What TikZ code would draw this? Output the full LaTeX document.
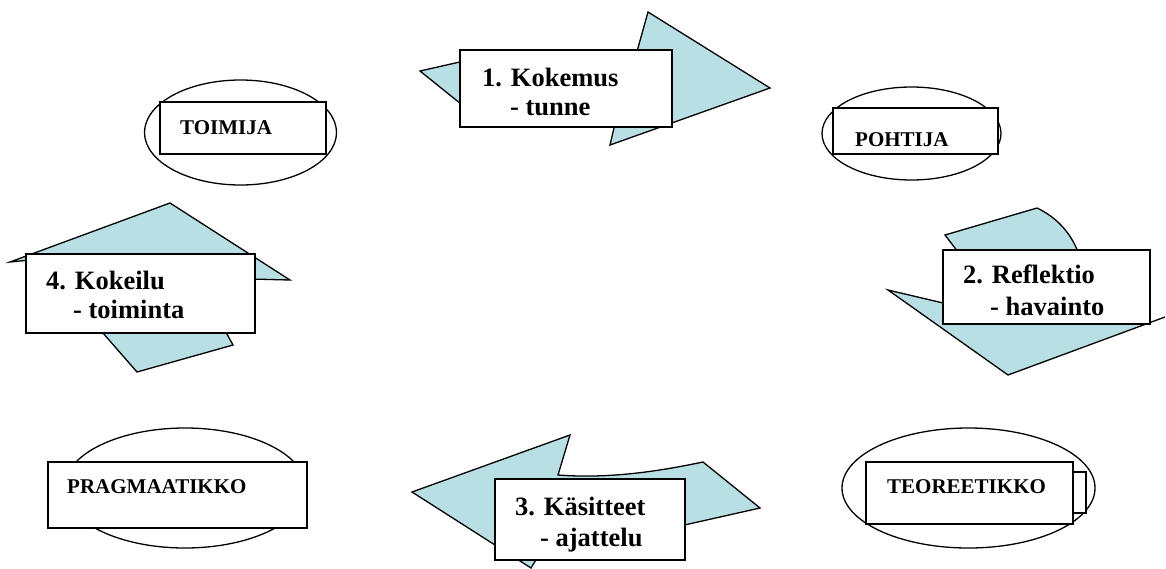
\documentclass[tikz,border=0pt]{standalone}
\usepackage{fontspec}
\setmainfont{Liberation Serif}
\usetikzlibrary{shapes.geometric}
\definecolor{arrowfill}{RGB}{184,223,227}
\tikzset{
  blockarrow/.style={draw=black, line width=1.3pt, fill=arrowfill, line join=miter},
  labelbox/.style={rectangle, draw=black, line width=1.8pt, fill=white, inner sep=0pt},
  oval/.style={ellipse, draw=black, line width=1.3pt, fill=white, inner sep=0pt},
  bigtext/.style={font=\bfseries\fontsize{26.5}{30}\selectfont, anchor=base west, inner sep=0pt},
  smalltext/.style={font=\bfseries\fontsize{21}{24}\selectfont, anchor=base west, inner sep=0pt},
}
\begin{document}
\begin{tikzpicture}[x=1pt, y=-1pt]
\useasboundingbox (0,0) rectangle (1166,568);

% --- the four role ovals ---
\node[oval, minimum width=192pt, minimum height=105pt] (ovtoimija) at (240.5,132.5) {};
\node[oval, minimum width=179pt, minimum height=93pt] (ovpohtija) at (911.5,133.5) {};
\node[oval, minimum width=242pt, minimum height=120pt] (ovpragma) at (185,488) {};
\node[oval, minimum width=253pt, minimum height=120pt] (ovteoree) at (968.5,488) {};

% --- role boxes ---
\node[labelbox, minimum width=166pt, minimum height=52pt] (bxtoimija) at (243,128) {};
\node[labelbox, minimum width=165pt, minimum height=46pt] (bxpohtija) at (915.5,131) {};
\node[labelbox, minimum width=259pt, minimum height=66pt] (bxpragma) at (177.5,495) {};
\node[labelbox, line width=1.3pt, minimum width=26pt, minimum height=41pt] (bxteoreetab) at (1073,492.5) {};
\node[labelbox, minimum width=207pt, minimum height=62pt] (bxteoree) at (969.5,493) {};

\node[smalltext] (ttoimija) at (180,134) {TOIMIJA};
\node[smalltext] (tpohtija) at (855,146.5) {POHTIJA};
\node[smalltext] (tpragma) at (67,493) {PRAGMAATIKKO};
\node[smalltext] (tteoree) at (887,493) {TEOREETIKKO};

% --- block arrows of the cycle ---
% 1: towards the right
\draw[blockarrow] (420,71) -- (462,61.5) -- (520,57) -- (636,55) -- (648,12) -- (770,88)
  -- (610,145) -- (617,115) -- (466,108) -- cycle;
% 2: turning down
\draw[blockarrow] (945,235) -- (1037,208) .. controls (1058,218) and (1071,234) .. (1078,252)
  -- (1120,300) -- (1150,322.5) -- (1165,317) -- (1008,375) -- (888,290) -- (960,307)
  -- (970,270) -- (958,252) -- cycle;
% 3: towards the left
\draw[blockarrow] (412,492) -- (570,435) -- (558,475) .. controls (610,479) and (660,471) .. (703,462)
  -- (760,508) -- (680,526) -- (560,535) -- (545,545) -- (531,568) -- cycle;
% 4: turning up
\draw[blockarrow] (10,262) -- (170,203) -- (290,280) -- (250,279) -- (222,325) -- (233,345)
  -- (137,372) -- (96,325) -- (40,259) -- cycle;

% --- phase boxes ---
\node[labelbox, minimum width=212pt, minimum height=77pt] (bxkokemus) at (566,88.5) {};
\node[labelbox, minimum width=207pt, minimum height=74pt] (bxreflektio) at (1046.5,287) {};
\node[labelbox, minimum width=190pt, minimum height=81pt] (bxkasitteet) at (590,519.5) {};
\node[labelbox, minimum width=229pt, minimum height=79pt] (bxkokeilu) at (140.5,293.5) {};

\node[bigtext] (tkokemus) at (482,86) {1. Kokemus};
\node[bigtext] (ttunne) at (510,115) {- tunne};
\node[bigtext] (treflektio) at (963,283) {2. Reflektio};
\node[bigtext] (thavainto) at (990,315) {- havainto};
\node[bigtext] (tkasitteet) at (515,515) {3. Käsitteet};
\node[bigtext] (tajattelu) at (540,546) {- ajattelu};
\node[bigtext] (tkokeilu) at (46,289) {4. Kokeilu};
\node[bigtext] (ttoiminta) at (73,318) {- toiminta};
\end{tikzpicture}
\end{document}
